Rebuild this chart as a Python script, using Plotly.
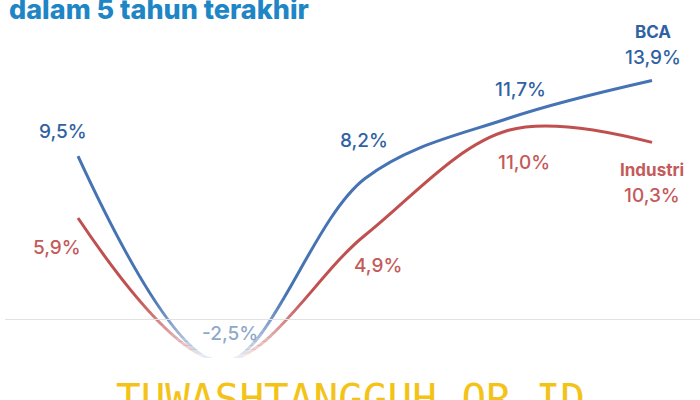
import plotly.graph_objects as go

# ---- data ----
years = ["2019", "2020", "2021", "2022", "2023"]
bca = [9.5, -2.5, 8.2, 11.7, 13.9]
industri = [5.9, -2.4, 4.9, 11.0, 10.3]
bca_labels = ["9,5%", "-2,5%", "8,2%", "11,7%", "13,9%"]
ind_labels = ["5,9%", "", "4,9%", "11,0%", "10,3%"]

# ---- styling / layout ----
W, H = 700, 400
ML, MR, MT, MB = 0, 0, 0, 42
BLUE_LINE = "#4673b3"
BLUE_TXT = "#2f62a3"
RED_LINE = "#c0504f"
RED_TXT = "#c45a5a"
FONT = "Inter"

px_per_x = 143.5
x0_px = 78
y_scale = 17.2
zero_px = 319.5

x_idx = list(range(len(years)))

fig = go.Figure()
fig.add_trace(go.Scatter(x=x_idx, y=industri, mode="lines",
                         line=dict(color=RED_LINE, width=3, shape="spline", smoothing=1.0),
                         hoverinfo="skip", showlegend=False))
fig.add_trace(go.Scatter(x=x_idx, y=bca, mode="lines",
                         line=dict(color=BLUE_LINE, width=3, shape="spline", smoothing=1.0),
                         hoverinfo="skip", showlegend=False))

annotations = []
# label offsets in px (dx, dy up); anchor moved by dy so anchor stays in range
bca_off = [(-15, 25), (8, 29), (-1, 38), (12, 29), (1, 23)]
ind_off = [(-21, -29), (0, 0), (13, -30), (15, -32), (0, -53)]
for i, (lab, (dx, dy)) in enumerate(zip(bca_labels, bca_off)):
    col = "#8faac9" if bca[i] < 0 else BLUE_TXT
    annotations.append(dict(x=x_idx[i], y=bca[i] + dy / y_scale, text=lab, showarrow=False,
                            xshift=dx,
                            font=dict(family=FONT, size=19, color=col, weight=500)))
for i, (lab, (dx, dy)) in enumerate(zip(ind_labels, ind_off)):
    if not lab:
        continue
    annotations.append(dict(x=x_idx[i], y=industri[i] + dy / y_scale, text=lab, showarrow=False,
                            xshift=dx,
                            font=dict(family=FONT, size=19, color=RED_TXT, weight=500)))
# series names
annotations.append(dict(x=x_idx[-1], y=bca[-1], text="BCA", showarrow=False,
                        xshift=1, yshift=48,
                        font=dict(family=FONT, size=17, color=BLUE_TXT, weight=700)))
annotations.append(dict(x=x_idx[-1], y=industri[-1], text="Industri", showarrow=False,
                        xshift=0, yshift=-28,
                        font=dict(family=FONT, size=17, color=RED_TXT, weight=700)))
# title (cut off at top)
annotations.append(dict(xref="paper", yref="paper", x=7 / W, y=1, xanchor="left",
                        yanchor="middle", yshift=-9, text="dalam 5 tahun terakhir",
                        showarrow=False,
                        font=dict(family=FONT, size=27, color="#1f86c6", weight=800)))
# watermark
annotations.append(dict(xref="paper", yref="paper", x=0.5, y=(H - MB - 381) / (H - MB - MT),
                        xanchor="center", yanchor="top", yshift=8,
                        text="TUWASHTANGGUH.OR.ID", showarrow=False,
                        font=dict(family="DejaVu Sans Mono", size=41, color="#f4c318")))

# fade-to-white overlay near bottom
shapes = []
N = 16
top_px, bot_px = 292, 358
plot_h = H - MT - MB
for k in range(N):
    y0px = top_px + (bot_px - top_px) * k / N
    y1px = top_px + (bot_px - top_px) * (k + 1) / N
    shapes.append(dict(type="rect", xref="paper", yref="paper", x0=0, x1=1,
                       y0=(H - MB - y1px) / plot_h, y1=(H - MB - y0px) / plot_h,
                       fillcolor="white", opacity=((k + 0.5) / N) ** 1.3 * 0.9,
                       line=dict(width=0), layer="above"))
# zero gridline
shapes.append(dict(type="line", xref="paper", yref="y", x0=5 / W, x1=1, y0=0, y1=0,
                   line=dict(color="#e2e2e2", width=1.2), layer="above"))

fig.update_layout(
    width=W, height=H, margin=dict(l=ML, r=MR, t=MT, b=MB),
    paper_bgcolor="white", plot_bgcolor="white",
    xaxis=dict(range=[-x0_px / px_per_x, (W - x0_px) / px_per_x], visible=False),
    yaxis=dict(range=[(zero_px - (H - MB)) / y_scale, zero_px / y_scale], visible=False),
    annotations=annotations, shapes=shapes,
)
fig.write_html("out.html", config={"displayModeBar": False},
               post_script="document.body.style.margin='0';document.body.style.overflow='hidden';")
